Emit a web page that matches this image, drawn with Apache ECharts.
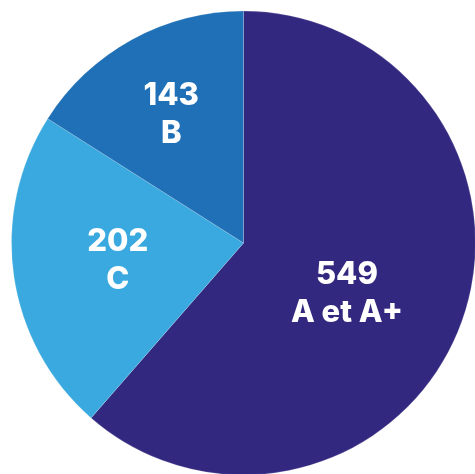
<!DOCTYPE html>
<html><head><meta charset="utf-8">
<script src="https://cdn.jsdelivr.net/npm/echarts@6/dist/echarts.min.js"></script>
<style>html,body{margin:0;padding:0;background:#fff}#c{width:475px;height:474px}</style>
</head><body><div id="c"></div>
<script>
const categories = ['A et A+', 'C', 'B'];
const values = [549, 202, 143];
const colors = ['#32287f', '#39a9df', '#1f70b6'];
const labelOffsets = [[-8, 9], [-8, 1], [-15, -24]];

const chart = echarts.init(document.getElementById('c'), null, {renderer: 'canvas'});
chart.setOption({
  animation: false,
  series: [{
    type: 'pie',
    center: [243.5, 243],
    radius: 232,
    startAngle: 90,
    clockwise: true,
    avoidLabelOverlap: false,
    itemStyle: {borderColor: 'rgba(255,255,255,0.35)', borderWidth: 0.5},
    label: {
      show: true,
      position: 'inside',
      formatter: p => p.value + '\n' + p.name,
      color: '#ffffff',
      fontFamily: 'Inter',
      fontWeight: 800,
      fontSize: 31,
      lineHeight: 38
    },
    labelLine: {show: false},
    emphasis: {disabled: true},
    data: categories.map((n, i) => ({
      name: n, value: values[i],
      itemStyle: {color: colors[i]},
      label: {offset: labelOffsets[i]}
    }))
  }]
});
</script></body></html>
